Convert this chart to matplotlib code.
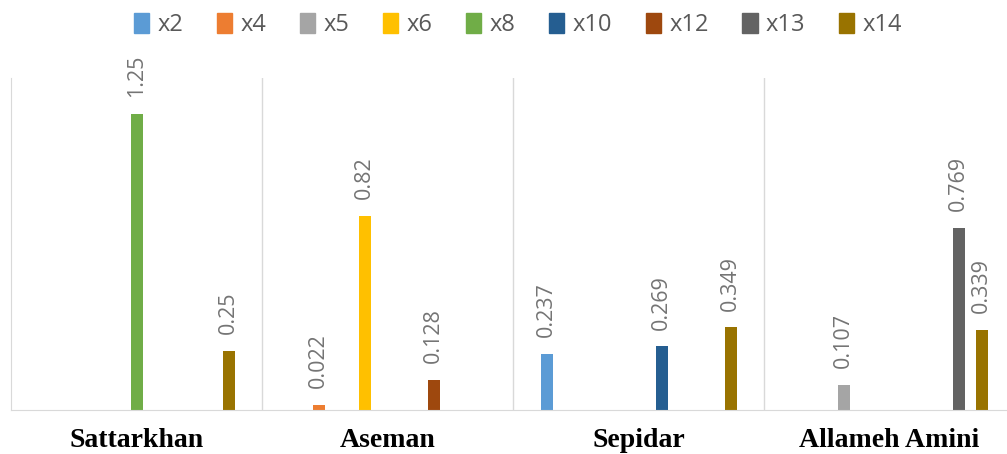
import numpy as np
import matplotlib.pyplot as plt
from matplotlib.patches import Patch

sites = ["Sattarkhan", "Aseman", "Sepidar", "Allameh Amini"]
series = ["x2", "x4", "x5", "x6", "x8", "x10", "x12", "x13", "x14"]
colors = ["#5B9BD5", "#ED7D31", "#A5A5A5", "#FFC000", "#70AD47",
          "#255E91", "#9E480E", "#636363", "#997300"]

# one row per series, one value per site (0 = no bar)
x2 = [0, 0, 0.237, 0]
x4 = [0, 0.022, 0, 0]
x5 = [0, 0, 0, 0.107]
x6 = [0, 0.82, 0, 0]
x8 = [1.25, 0, 0, 0]
x10 = [0, 0, 0.269, 0]
x12 = [0, 0.128, 0, 0]
x13 = [0, 0, 0, 0.769]
x14 = [0.25, 0, 0.349, 0.339]
values = [x2, x4, x5, x6, x8, x10, x12, x13, x14]
labels = {
    "x2": ["", "", "0.237", ""],
    "x4": ["", "0.022", "", ""],
    "x5": ["", "", "", "0.107"],
    "x6": ["", "0.82", "", ""],
    "x8": ["1.25", "", "", ""],
    "x10": ["", "", "0.269", ""],
    "x12": ["", "0.128", "", ""],
    "x13": ["", "", "", "0.769"],
    "x14": ["0.25", "", "0.349", "0.339"],
}

txt_gray = "#595959"
lbl_gray = "#747474"
line_gray = "#D9D9D9"

fig = plt.figure(figsize=(10.07, 4.54), dpi=100)
ax = fig.add_axes([11 / 1007, 44 / 454, 996 / 1007, 332 / 454])

x = np.arange(len(sites))
slot = 23 / 251
width = 12 / 251
for i, name in enumerate(series):
    pos = x + (i - 4) * slot
    bars = ax.bar(pos, values[i], width, color=colors[i])
    for b, v, lab in zip(bars, values[i], labels[name]):
        if v > 0:
            ax.annotate(lab, (b.get_x() + b.get_width() / 2, v),
                        xytext=(0, 12), textcoords="offset points",
                        rotation=90, ha="center", va="bottom",
                        fontsize=15.5, color=lbl_gray, family="Open Sans")

ax.set_xlim(-0.5, -0.5 + 996 / 251)
ax.set_ylim(0, 1.4)
for s in ["top", "right"]:
    ax.spines[s].set_visible(False)
ax.spines["left"].set_color(line_gray)
ax.spines["bottom"].set_color(line_gray)
for sep in [0.5, 1.5, 2.5]:
    ax.axvline(sep, color=line_gray, lw=1)
ax.set_yticks([])
ax.set_xticks(x)
ax.set_xticklabels(sites, fontsize=20, fontweight="bold",
                   family="Liberation Serif", color="black")
ax.tick_params(axis="x", length=0, pad=13)

handles = [Patch(color=c) for c in colors]
fig.legend(handles, series, loc="center", bbox_to_anchor=(518 / 1007, 1 - 25 / 454),
           ncol=9, frameon=False, labelcolor=txt_gray,
           handlelength=0.65, handleheight=0.9, handletextpad=0.35,
           columnspacing=1.42, prop={"family": "Open Sans", "size": 17})

fig.savefig("out.png", dpi=100)
